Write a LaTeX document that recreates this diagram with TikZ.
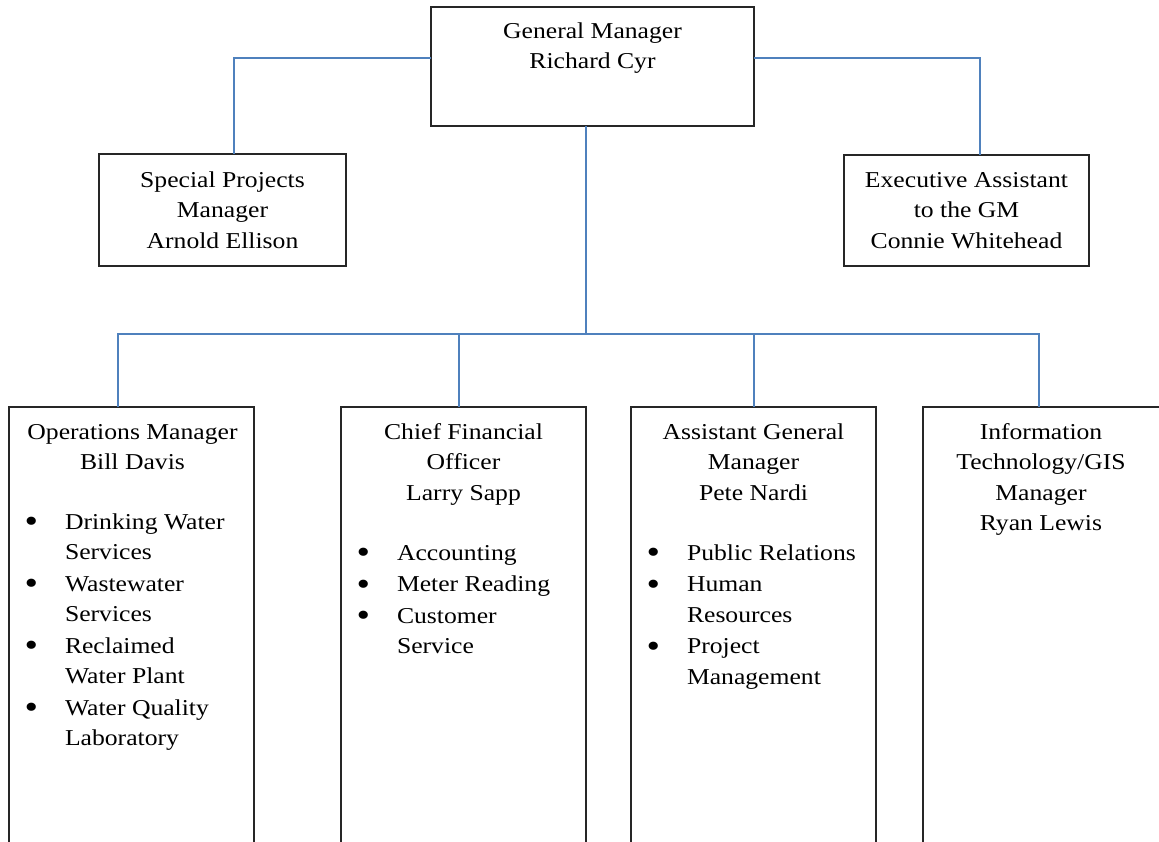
\documentclass[tikz,border=0pt]{standalone}
\usepackage{fontspec}
\setmainfont{Liberation Serif}[FakeStretch=1.13]
\usepackage{array}
\definecolor{lineblue}{RGB}{79,129,189}
\newcommand{\itm}{\llap{\raisebox{-3.5pt}{\scalebox{1.5}{\textbullet}}\hspace{27pt}}}
\begin{document}
\begin{tikzpicture}[x=1pt,y=-1pt]
\tikzset{
  box/.style={draw=black!85, line width=1.6pt, rectangle, inner sep=0pt, outer sep=0pt},
  conn/.style={draw=lineblue, line width=1.8pt},
  txt/.style={inner sep=0pt, outer sep=0pt, font=\fontsize{22.7}{30.5}\selectfont},
}
\useasboundingbox (0,0) rectangle (1159,841);
\clip (0,0) rectangle (1159,841);

% boxes
\node[box, minimum width=323pt, minimum height=119pt] (gm) at (592.5,66.5) {};
\node[box, minimum width=247pt, minimum height=112pt] (sp) at (222.5,210) {};
\node[box, minimum width=245pt, minimum height=111pt] (ea) at (966.5,210.5) {};
\node[box, minimum width=245pt, minimum height=463pt] (b1) at (131.5,638.5) {};
\node[box, minimum width=245pt, minimum height=463pt] (b2) at (463.5,638.5) {};
\node[box, minimum width=245pt, minimum height=463pt] (b3) at (753.5,638.5) {};
\node[box, minimum width=245pt, minimum height=463pt] (b4) at (1045.5,638.5) {};

% connectors
\coordinate (bus) at (586,334);
\draw[conn] ([yshift=8.5pt]gm.west) -| ([xshift=11.5pt]sp.north);
\draw[conn] ([yshift=8.5pt]gm.east) -| ([xshift=13.5pt]ea.north);
\draw[conn] ([xshift=-6.5pt]gm.south) -- (bus);
\draw[conn] ([xshift=-13.5pt]b1.north) |- (bus) -| ([xshift=-6.5pt]b4.north);
\draw[conn] ([xshift=-4.5pt]b2.north) |- (bus);
\draw[conn] ([xshift=0.5pt]b3.north) |- (bus);

% texts
\node[txt, anchor=base] (gmt) at (592.5,38) {\begin{tabular}[t]{@{}c@{}}General Manager\\Richard Cyr\end{tabular}};
\node[txt, anchor=base] (spt) at (222.5,187) {\begin{tabular}[t]{@{}c@{}}Special Projects\\Manager\\Arnold Ellison\end{tabular}};
\node[txt, anchor=base] (eat) at (966.5,187) {\begin{tabular}[t]{@{}c@{}}Executive Assistant\\to the GM\\Connie Whitehead\end{tabular}};

\node[txt, anchor=base] (b1t) at (132.5,439) {\begin{tabular}[t]{@{}c@{}}Operations Manager\\Bill Davis\end{tabular}};
\node[txt, anchor=base west] (b1l) at (65,529) {\begin{tabular}[t]{@{}l@{}}\itm Drinking Water\\Services\\[1pt]\itm Wastewater\\Services\\[1pt]\itm Reclaimed\\Water Plant\\[1pt]\itm Water Quality\\Laboratory\end{tabular}};

\node[txt, anchor=base] (b2t) at (463.5,439) {\begin{tabular}[t]{@{}c@{}}Chief Financial\\Officer\\Larry Sapp\end{tabular}};
\node[txt, anchor=base west] (b2l) at (397,560) {\begin{tabular}[t]{@{}l@{}}\itm Accounting\\[1pt]\itm Meter Reading\\[1pt]\itm Customer\\Service\end{tabular}};

\node[txt, anchor=base] (b3t) at (753.5,439) {\begin{tabular}[t]{@{}c@{}}Assistant General\\Manager\\Pete Nardi\end{tabular}};
\node[txt, anchor=base west] (b3l) at (687,560) {\begin{tabular}[t]{@{}l@{}}\itm Public Relations\\[1pt]\itm Human\\Resources\\[1pt]\itm Project\\Management\end{tabular}};

\node[txt, anchor=base] (b4t) at (1041,439) {\begin{tabular}[t]{@{}c@{}}Information\\Technology/GIS\\Manager\\Ryan Lewis\end{tabular}};
\end{tikzpicture}
\end{document}
